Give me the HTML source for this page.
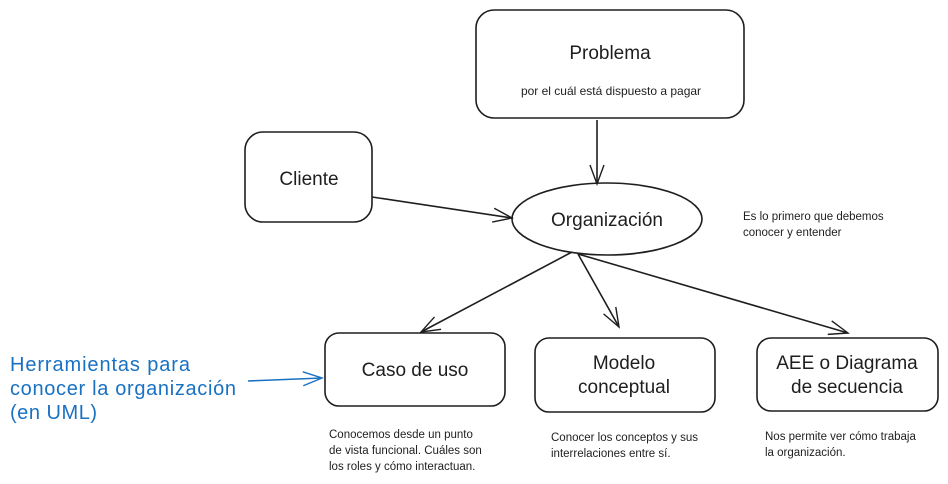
<!DOCTYPE html>
<html><head><meta charset="utf-8"><style>
html,body{margin:0;padding:0;background:#fff;width:948px;height:484px;overflow:hidden}
svg text{font-family:"Liberation Sans",sans-serif;fill:#1e1e1e}
</style></head><body>
<svg width="948" height="484" viewBox="0 0 948 484" xmlns="http://www.w3.org/2000/svg">
<defs>
<marker id="a" markerWidth="22" markerHeight="22" refX="20" refY="11" orient="auto" markerUnits="userSpaceOnUse">
<path d="M1,4 L20,11 L1,18" fill="none" stroke="#1e1e1e" stroke-width="1.4"/></marker>
<marker id="b" markerWidth="22" markerHeight="22" refX="20" refY="11" orient="auto" markerUnits="userSpaceOnUse">
<path d="M1,4 L20,11 L1,18" fill="none" stroke="#1971c2" stroke-width="1.4"/></marker>
</defs>
<g fill="none" stroke="#1e1e1e" stroke-width="1.6">
<rect x="476" y="10" width="268" height="108" rx="18"/>
<rect x="245" y="132" width="127" height="90" rx="18"/>
<ellipse cx="607" cy="219" rx="95" ry="36"/>
<rect x="325" y="333" width="180" height="73" rx="14"/>
<rect x="535" y="338" width="180" height="74" rx="14"/>
<rect x="757" y="338" width="181" height="73" rx="14"/>
<line x1="597" y1="120" x2="597" y2="184" marker-end="url(#a)"/>
<line x1="372" y1="197" x2="512" y2="218" marker-end="url(#a)"/>
<line x1="572" y1="252" x2="421" y2="332" marker-end="url(#a)"/>
<line x1="578" y1="254" x2="619" y2="327" marker-end="url(#a)"/>
<line x1="578" y1="254" x2="848" y2="333" marker-end="url(#a)"/>
<line x1="248" y1="381" x2="322" y2="378" stroke="#1971c2" marker-end="url(#b)"/>
</g>
<g text-anchor="middle" font-size="19">
<text x="610" y="59">Problema</text>
<text x="309" y="185">Cliente</text>
<text x="607" y="226">Organización</text>
<text x="415" y="376">Caso de uso</text>
<text x="624" y="369">Modelo</text>
<text x="624" y="393">conceptual</text>
<text x="847" y="369">AEE o Diagrama</text>
<text x="847" y="393">de secuencia</text>
<text x="611" y="95" font-size="12">por el cuál está dispuesto a pagar</text>
</g>
<g font-size="11.5">
<text x="743" y="220">Es lo primero que debemos</text>
<text x="743" y="236">conocer y entender</text>
<text x="329" y="438">Conocemos desde un punto</text>
<text x="329" y="454">de vista funcional. Cuáles son</text>
<text x="329" y="470">los roles y cómo interactuan.</text>
<text x="551" y="441">Conocer los conceptos y sus</text>
<text x="551" y="457">interrelaciones entre sí.</text>
<text x="765" y="440">Nos permite ver cómo trabaja</text>
<text x="765" y="456">la organización.</text>
</g>
<g font-size="20">
<text x="10" y="371" style="fill:#1971c2" textLength="180">Herramientas para</text>
<text x="10" y="395" style="fill:#1971c2" textLength="226">conocer la organización</text>
<text x="10" y="419" style="fill:#1971c2" textLength="87">(en UML)</text>
</g>
</svg>
</body></html>
